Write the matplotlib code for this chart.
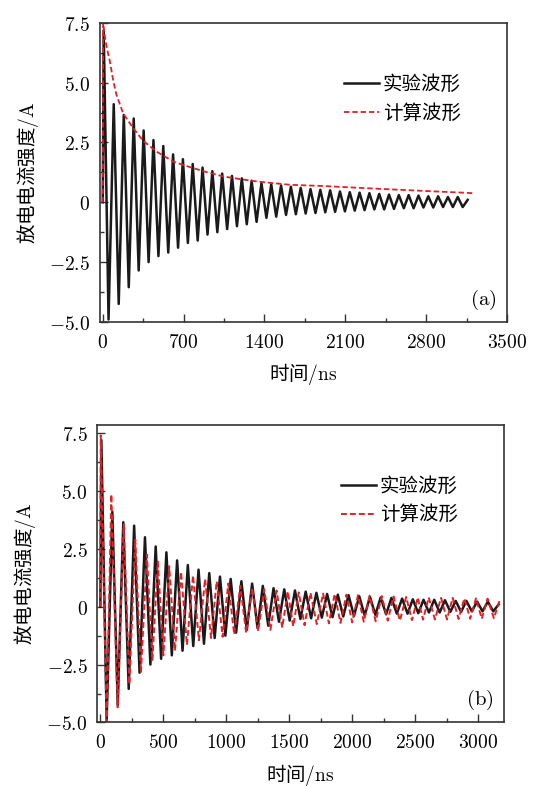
import numpy as np
import matplotlib
matplotlib.use('Agg')
import matplotlib.pyplot as plt
from matplotlib.ticker import MultipleLocator

plt.rcParams['font.family'] = ['Noto Sans CJK SC', 'DejaVu Sans']
plt.rcParams['mathtext.fontset'] = 'cm'
plt.rcParams['axes.unicode_minus'] = True

exp_peak_t = [8, 95, 182, 268, 354, 439, 524, 609, 694, 779, 864, 949, 1034, 1119,
              1204, 1289, 1374, 1459, 1544, 1629, 1714, 1799, 1884, 1969, 2054, 2139,
              2224, 2309, 2394, 2479, 2564, 2649, 2734, 2819, 2904, 2989, 3074]
exp_peak_i = [7.2, 4.1, 3.65, 3.5, 3.0, 2.6, 2.35, 2.0, 1.8, 1.6, 1.45, 1.3, 1.2, 1.1,
              1.0, 0.9, 0.8, 0.75, 0.7, 0.65, 0.6, 0.55, 0.52, 0.5, 0.45, 0.42,
              0.4, 0.38, 0.35, 0.32, 0.3, 0.3, 0.28, 0.25, 0.25, 0.22, 0.22]
exp_trough_t = [50, 138, 225, 311, 397, 482, 567, 652, 737, 822, 907, 992, 1077, 1162,
                1247, 1332, 1417, 1502, 1587, 1672, 1757, 1842, 1927, 2012, 2097, 2182,
                2267, 2352, 2437, 2522, 2607, 2692, 2777, 2862, 2947, 3032, 3117]
exp_trough_i = [-4.9, -4.25, -3.55, -2.85, -2.5, -2.25, -2.1, -1.9, -1.7, -1.6, -1.35, -1.25,
                -1.12, -1.0, -0.92, -0.82, -0.65, -0.6, -0.53, -0.5, -0.47, -0.45, -0.42,
                -0.4, -0.38, -0.35, -0.33, -0.3, -0.3, -0.28, -0.25, -0.25, -0.22, -0.22,
                -0.2, -0.2, -0.2]

# (a) calculated envelope
env_t = [0, 3, 22, 40, 61, 90, 118, 176, 263, 349, 465, 610, 754, 898, 1043, 1187, 1332,
         1476, 1621, 1900, 2400, 2800, 3210]
env_i = [0, 7.5, 6.8, 6.35, 5.9, 5.1, 4.5, 3.72, 3.1, 2.57, 2.12, 1.7, 1.47, 1.26, 1.08,
         0.97, 0.87, 0.8, 0.73, 0.68, 0.56, 0.47, 0.38]

# (b) calculated waveform: peaks and troughs
calc_peak_t = [3, 87, 185, 277, 369, 456, 546, 640, 735, 831, 923, 1015, 1110, 1205,
               1300, 1398, 1487, 1574, 1667, 1767, 1859, 1952, 2044, 2136, 2233, 2326,
               2426, 2518, 2605, 2703, 2795, 2888, 2980, 3072, 3172]
calc_peak_i = [7.4, 4.85, 3.55, 2.9, 2.25, 1.95, 1.75, 1.5, 1.35, 1.2, 1.1, 1.0, 0.9,
               0.82, 0.75, 0.7, 0.66, 0.62, 0.6, 0.57, 0.55, 0.52, 0.5, 0.48, 0.46,
               0.44, 0.42, 0.4, 0.4, 0.38, 0.38, 0.36, 0.36, 0.35, 0.35]
calc_trough_t = [50, 137, 230, 322, 413, 500, 592, 687, 782, 878, 970, 1062, 1157, 1252,
                 1349, 1443, 1530, 1620, 1717, 1813, 1905, 1998, 2090, 2184, 2280, 2376,
                 2472, 2560, 2654, 2750, 2842, 2934, 3026, 3122]
calc_trough_i = [-5.0, -4.35, -3.35, -2.85, -2.3, -2.1, -1.9, -1.65, -1.45, -1.35, -1.3,
                 -1.2, -1.13, -1.06, -1.0, -0.9, -0.85, -0.8, -0.75, -0.72, -0.7, -0.68,
                 -0.65, -0.63, -0.6, -0.6, -0.58, -0.56, -0.55, -0.55, -0.53, -0.52,
                 -0.52, -0.5]

ytick_vals = [-5.0, -2.5, 0, 2.5, 5.0, 7.5]
ytick_labels = ['$-5.0$', '$-2.5$', '$0$', '$2.5$', '$5.0$', '$7.5$']
xticks_a = [0, 700, 1400, 2100, 2800, 3500]
xticks_b = [0, 500, 1000, 1500, 2000, 2500, 3000]
labels = ['实验波形', '计算波形']

# interleave peaks and troughs
t_exp = np.concatenate([[0], np.column_stack([exp_peak_t, exp_trough_t]).ravel(), [3160]])
i_exp = np.concatenate([[0], np.column_stack([exp_peak_i, exp_trough_i]).ravel(), [0.1]])
t_calc = np.concatenate([[0], np.column_stack([calc_peak_t[:-1], calc_trough_t]).ravel(),
                         [calc_peak_t[-1]]])
i_calc = np.concatenate([[0], np.column_stack([calc_peak_i[:-1], calc_trough_i]).ravel(),
                         [calc_peak_i[-1]]])

red = '#e41f26'
dash = (0, (3, 1.6))
fig = plt.figure(figsize=(5.37, 7.87), dpi=100)
ax_a = fig.add_axes([0.186, 0.591, 0.758, 0.380])
ax_b = fig.add_axes([0.181, 0.082, 0.757, 0.378])

for ax, xt, xmin, xlim, ylim, tag in [
        (ax_a, xticks_a, 350, (-25, 3500), (-5, 7.5), '(a)'),
        (ax_b, xticks_b, 250, (-25, 3200), (-5, 7.85), '(b)')]:
    ax.plot(t_exp, i_exp, c='#1a1a1a', lw=1.8, solid_joinstyle='round', label=labels[0])
    if ax is ax_a:
        ax.plot(env_t, env_i, c=red, lw=1.3, ls=dash, label=labels[1])
    else:
        ax.plot(t_calc, i_calc, c=red, lw=1.4, ls=dash, label=labels[1])
    ax.set_xlim(*xlim)
    ax.set_ylim(*ylim)
    ax.set_xticks(xt)
    ax.set_xticklabels(['$%d$' % v for v in xt])
    ax.xaxis.set_minor_locator(MultipleLocator(xmin))
    ax.set_yticks(ytick_vals)
    ax.set_yticklabels(ytick_labels)
    ax.yaxis.set_minor_locator(MultipleLocator(1.25))
    ax.tick_params(which='both', direction='in', top=False, right=False,
                   labelsize=14, color='#333333', width=1.0)
    ax.tick_params(which='major', length=6, pad=7)
    ax.tick_params(which='minor', length=3)
    for s in ax.spines.values():
        s.set_linewidth(1.2)
        s.set_color('#333333')
    ax.set_xlabel('时间$/\\mathrm{ns}$', fontsize=14, labelpad=6)
    ax.set_ylabel('放电电流强度$/\\mathrm{A}$', fontsize=14, labelpad=6)
    ax.text(0.975, 0.075, '$\\mathrm{%s}$' % tag, transform=ax.transAxes,
            ha='right', va='center', fontsize=15)
    ax.legend(loc='upper left', bbox_to_anchor=(0.6, 0.83), frameon=False,
              fontsize=14, handlelength=1.8, handletextpad=0.2,
              borderpad=0, borderaxespad=0, labelspacing=0.4)

fig.savefig('out.png', dpi=100)
